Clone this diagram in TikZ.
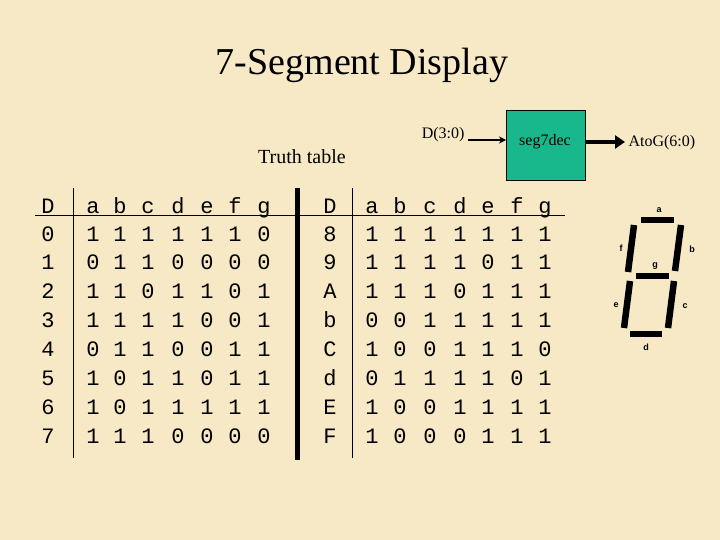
\documentclass[tikz,border=0pt]{standalone}
\usepackage{fontspec}
\setmainfont{Liberation Serif}
\newfontfamily\mono{Liberation Mono}
\newfontfamily\arial{Liberation Sans}
\usetikzlibrary{arrows.meta}
\definecolor{parch}{RGB}{247,233,198}
\definecolor{teal7}{RGB}{24,184,140}
\tikzset{
  cell/.style={font=\mono\fontsize{22}{22}\selectfont, inner sep=0pt, anchor=base},
  seg/.style={line width=6.5pt},
  slab/.style={font=\arial\bfseries\fontsize{9}{9}\selectfont, inner sep=0pt},
}
\begin{document}
\begin{tikzpicture}[x=1pt,y=-1pt]
\fill[parch] (0,0) rectangle (720,540);
\useasboundingbox (0,0) rectangle (720,540);
\node[font=\fontsize{38}{38}\selectfont] (title) at (362,65) {7-Segment Display};
\node[font=\fontsize{20}{20}\selectfont] (tt) at (302,157) {Truth table};
% block
\node[draw=black, fill=teal7, minimum width=79pt, minimum height=70pt, inner sep=0pt, font=\fontsize{16}{16}\selectfont] (blk) at (545.5,145) {};
\node[font=\fontsize{16}{16}\selectfont] (blt) at (545,142) {seg7dec};
\node[font=\fontsize{16}{16}\selectfont, anchor=east] (din) at (468,135) {D(3:0)};
\node[font=\fontsize{16}{16}\selectfont, anchor=west] (dout) at (625,143) {AtoG(6:0)};
\coordinate (bin) at (506,140);
\coordinate (bout) at (585,142);
\draw[line width=1.5pt,-{Stealth[length=7pt,width=7pt]}] (din.east |- 0,140) -- (bin);
\draw[line width=4pt,-{Triangle[length=10pt,width=13pt]}] (bout) -- (dout.west |- 0,142);
% table lines
\draw[line width=1pt] (35,216) -- (295,216);
\draw[line width=1pt] (300,216) -- (565,216);
\draw[line width=1pt] (73,188) -- (73,458);
\draw[line width=1pt] (352,188) -- (352,458);
\draw[line width=5pt] (297,188) -- (297,460);
% left table
\foreach \t [count=\i from 0] in {D,a,b,c,d,e,f,g}{
  \pgfmathsetmacro\xx{{48,93,120,148,178,207,235,264}[\i]}
  \node[cell] at (\xx,214) {\t};}
\foreach \r [count=\j from 0] in {
  {0,1,1,1,1,1,1,0},{1,0,1,1,0,0,0,0},{2,1,1,0,1,1,0,1},{3,1,1,1,1,0,0,1},
  {4,0,1,1,0,0,1,1},{5,1,0,1,1,0,1,1},{6,1,0,1,1,1,1,1},{7,1,1,1,0,0,0,0}}{
  \foreach \v [count=\i from 0] in \r {
    \pgfmathsetmacro\xx{{48,93,120,148,178,207,235,264}[\i]}
    \node[cell] at (\xx,{241+28.9*\j}) {\v};}}
% right table
\foreach \t [count=\i from 0] in {D,a,b,c,d,e,f,g}{
  \pgfmathsetmacro\xx{{330,372,400,430,460,488,517,545}[\i]}
  \node[cell] at (\xx,214) {\t};}
\foreach \r [count=\j from 0] in {
  {8,1,1,1,1,1,1,1},{9,1,1,1,1,0,1,1},{A,1,1,1,0,1,1,1},{b,0,0,1,1,1,1,1},
  {C,1,0,0,1,1,1,0},{d,0,1,1,1,1,0,1},{E,1,0,0,1,1,1,1},{F,1,0,0,0,1,1,1}}{
  \foreach \v [count=\i from 0] in \r {
    \pgfmathsetmacro\xx{{330,372,400,430,460,488,517,545}[\i]}
    \node[cell] at (\xx,{241+28.9*\j}) {\v};}}
% seven segment
\draw[seg] (641,220) -- (674,220);
\draw[seg] (681,225) -- (675,271);
\draw[seg] (634,225) -- (628,272);
\draw[seg] (636,276) -- (669,276);
\draw[seg] (630,281) -- (624,328);
\draw[seg] (674,281) -- (668,328);
\draw[seg] (630,334) -- (662,334);
\node[slab] (la) at (659,210) {a};
\node[slab] (lb) at (692,249) {b};
\node[slab] (lf) at (621,248) {f};
\node[slab] (lg) at (655,266) {g};
\node[slab] (le) at (616,305) {e};
\node[slab] (lc) at (685,306) {c};
\node[slab] (ld) at (646,347) {d};
\end{tikzpicture}
\end{document}
